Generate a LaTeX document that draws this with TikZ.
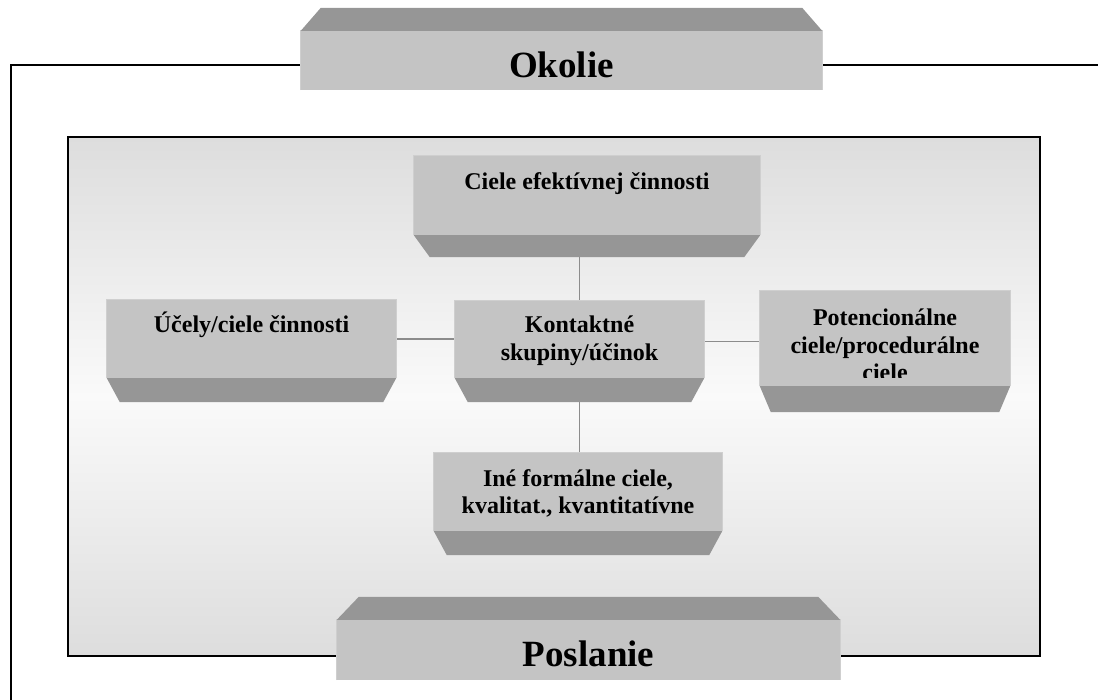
\documentclass[tikz,border=0pt]{standalone}
\usepackage{fontspec}
\setmainfont{Liberation Serif}
\usetikzlibrary{calc}

\definecolor{faceC}{HTML}{C4C4C4}
\definecolor{faceEdge}{HTML}{CFCFCF}
\definecolor{bevelC}{HTML}{969696}
\definecolor{linkC}{HTML}{8C8C8C}
\definecolor{panelC}{HTML}{DDDDDD}
\definecolor{panelMid}{HTML}{FAFAFA}

\tikzset{
  face/.style={rectangle, inner sep=0pt},
  bevel/.style={fill=bevelC},
  link/.style={draw=linkC, line width=1.5},
  frame/.style={draw=black, line width=2},
  small/.style={font=\fontsize{24}{27.5}\selectfont\bfseries, align=center, anchor=base, inner sep=0pt},
  big/.style={font=\fontsize{37}{44}\selectfont\bfseries, anchor=base, inner sep=0pt},
}

% bevel under a face: node, inset, depth
\newcommand\BevelBelow[3]{%
  \fill[bevel] (#1.south west) -- (#1.south east) -- ($(#1.south east)+(-#2,#3)$)
    -- ($(#1.south west)+(#2,#3)$) -- cycle;}
% bevel above a face: node, inset, depth
\newcommand\BevelAbove[3]{%
  \fill[bevel] (#1.north west) -- (#1.north east) -- ($(#1.north east)+(-#2,-#3)$)
    -- ($(#1.north west)+(#2,-#3)$) -- cycle;}

\begin{document}
\begin{tikzpicture}[x=1pt, y=-1pt]
  \useasboundingbox (0,0) rectangle (1098,700);

  % inner panel with soft vertical shading
  \node[draw=black, line width=2.2, minimum width=972, minimum height=519,
        inner sep=0pt, top color=panelC, bottom color=panelC, middle color=panelMid]
        (panel) at (554,396.5) {};

  % outer frame (only its left and top edges fall inside the picture)
  \coordinate (obl) at (11,700);
  \coordinate (otl) at (11,65);
  \coordinate (otr) at (1098,65);
  \draw[frame] (obl) -- (otl) -- (otr);

  % box positions (faces); painted after the connectors
  \path
    node[face, minimum width=521, minimum height=59] (okolie) at (561.5,60.5) {}
    node[face, minimum width=503, minimum height=60] (poslanie) at (588.5,650) {}
    node[face, minimum width=346, minimum height=79] (ciele) at (587,195.5) {}
    node[face, minimum width=289, minimum height=78] (ucely) at (251.5,339) {}
    node[face, minimum width=249, minimum height=77] (kont) at (579.5,339.5) {}
    node[face, minimum width=250, minimum height=95] (pot) at (885,338.5) {}
    node[face, minimum width=288, minimum height=78] (ine) at (578,492) {};

  % connectors around the central box
  \draw[link] (ciele.south -| kont.north) -- (kont.north);
  \draw[link] (kont.south) -- (kont.south |- ine.north);
  \draw[link] (ucely.east) -- (ucely.east -| kont.west);
  \draw[link] ($(kont.east)+(0,2)$) -- ($(kont.east -| pot.west)+(0,2)$);

  % faces
  \foreach \n in {okolie,poslanie,ciele,ucely,kont,pot,ine}
    \fill[faceC] (\n.north west) rectangle (\n.south east);
  \foreach \n in {okolie,poslanie,ciele,ucely,kont,pot,ine}
    \draw[faceEdge, line width=0.8] (\n.south west) -- (\n.north west) -- (\n.north east) -- (\n.south east);

  % bevels
  \BevelAbove{okolie}{20}{23}
  \BevelAbove{poslanie}{22}{23}
  \BevelBelow{ciele}{16}{22}
  \BevelBelow{ucely}{13}{24}
  \BevelBelow{kont}{13}{24}
  \BevelBelow{pot}{11}{26}
  \BevelBelow{ine}{13}{24}

  % labels (base anchor sits on the last line)
  \node[big] (tOkolie) at ($(okolie.north)+(0,47)$) {Okolie};
  \node[big] (tPoslanie) at ($(poslanie.north)+(0,47)$) {Poslanie};
  \node[small] (tCiele) at ($(ciele.north)+(0,34)$) {Ciele efektívnej činnosti};
  \node[small] (tUcely) at ($(ucely.north)+(0,33)$) {Účely/ciele činnosti};
  \node[small] (tKont) at ($(kont.north)+(0,59.5)$) {Kontaktné\\skupiny/účinok};
  \begin{scope}
    \clip (pot.north west) rectangle ($(pot.south east)+(0,-9)$);
    \node[small] (tPot) at ($(pot.north)+(0,90)$) {Potencionálne\\ciele/procedurálne\\ciele};
  \end{scope}
  \node[small] (tIne) at ($(ine.north)+(0,61)$) {Iné formálne ciele,\\kvalitat., kvantitatívne};
\end{tikzpicture}
\end{document}
